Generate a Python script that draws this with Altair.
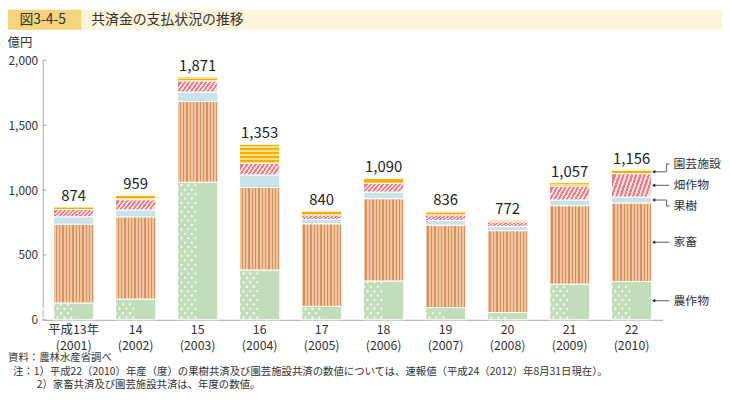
import altair as alt
import pandas as pd

# ---- data (億円) ----
years = ["2001", "2002", "2003", "2004", "2005", "2006", "2007", "2008", "2009", "2010"]
wareki = ["平成13年", "14", "15", "16", "17", "18", "19", "20", "21", "22"]
categories = ["農作物", "家畜", "果樹", "畑作物", "園芸施設"]
nousakumotsu = [130, 160, 1061, 384, 104, 300, 94, 56, 275, 295]
kachiku = [607, 634, 623, 636, 636, 634, 636, 631, 605, 606]
kaju = [57, 53, 72, 97, 33, 51, 36, 33, 44, 45]
hatasaku = [56, 79, 86, 89, 36, 68, 43, 36, 108, 181]
engei = [24, 33, 29, 147, 31, 37, 27, 16, 25, 29]
totals = [874, 959, 1871, 1353, 840, 1090, 836, 772, 1057, 1156]
y_ticks = [0, 500, 1000, 1500, 2000]

title_no = "図3-4-5"
title_text = "共済金の支払状況の推移"
unit_label = "億円"
note_src = "資料：農林水産省調べ"
note_1 = "注：1）平成22（2010）年産（度）の果樹共済及び園芸施設共済の数値については、速報値（平成24（2012）年8月31日現在）。"
note_2 = "2）家畜共済及び園芸施設共済は、年度の数値。"

series = [nousakumotsu, kachiku, kaju, hatasaku, engei]
xlabels = [f"{w}|({y})" for w, y in zip(wareki, years)]

rows = []
for i, xl in enumerate(xlabels):
    base = 0
    for c, s in zip(categories, series):
        rows.append({"xlab": xl, "cat": c, "value": s[i], "y0": base, "y1": base + s[i]})
        base += s[i]
df = pd.DataFrame(rows)
tot_df = pd.DataFrame({"xlab": xlabels, "total": totals})
lab_df = pd.DataFrame({"xlab": xlabels, "l1": wareki, "l2": [f"({y})" for y in years]})

FONT = "Noto Sans CJK JP"
TXT = "#333333"
W, H = 626, 262
PAD_L = 35

xscale = alt.Scale(domain=xlabels, paddingInner=0.35, paddingOuter=0.175)
yscale = alt.Scale(domain=[0, 2000], nice=False)


def stripes(c1, c2, n, frac, x1, y1, x2, y2):
    stops = []
    for i in range(n):
        a, b, c = i / n, (i + frac) / n, (i + 1) / n
        stops += [alt.GradientStop(color=c1, offset=a), alt.GradientStop(color=c1, offset=b),
                  alt.GradientStop(color=c2, offset=b), alt.GradientStop(color=c2, offset=c)]
    return alt.LinearGradient(gradient="linear", stops=stops, x1=x1, y1=y1, x2=x2, y2=y2)


fills = {
    "農作物": "#c2ddb9",
    "家畜": stripes("#efc6a2", "#d8915f", 12, 0.6, 0, 0, 1, 0),
    "果樹": "#c8e3ea",
    "畑作物": stripes("#e47e88", "#fadcdf", 10, 0.5, 0, 0.4, 1, 0.6),
    "園芸施設": stripes("#f2b000", "#fbe08a", 5, 0.55, 0, 0, 0, 1),
}

X_AXIS = alt.Axis(labels=False, ticks=False, domainColor="#a8a8a8", title=None)
Y_AXIS = alt.Axis(values=y_ticks, format=",d", labelFontSize=12, labelColor=TXT,
                  labelFont=FONT, labelPadding=5, ticks=False, grid=False,
                  domainColor="#a8a8a8", title=None)


def xe():
    return alt.X("xlab:N", scale=xscale, sort=xlabels, axis=X_AXIS, title=None)


def ye(field):
    return alt.Y(field, scale=yscale, axis=Y_AXIS, title=None)


base = alt.Chart(df)
bar_layers = []
for c in categories:
    bar_layers.append(
        base.transform_filter(alt.datum.cat == c)
        .mark_bar(fill=fills[c], stroke="white", strokeWidth=1)
        .encode(x=xe(), y=ye("y0:Q"), y2="y1:Q")
    )

# dotted texture on 農作物
dots = (
    base.transform_filter(alt.datum.cat == "農作物")
    .transform_calculate(idx="sequence(0, floor((datum.value - 27) / 34) + 1)")
    .transform_flatten(["idx"])
    .transform_calculate(yv="17 + datum.idx * 34",
                         cols="datum.idx % 2 == 0 ? [-17, -10, -3, 4, 11, 18] : [-13.5, -6.5, 0.5, 7.5, 14.5]")
    .transform_flatten(["cols"])
    .mark_square(size=4, color="white", opacity=0.95)
    .encode(x=xe(), xOffset=alt.XOffset("cols:Q", scale=None), y=ye("yv:Q"))
)

tot_text = alt.Chart(tot_df).mark_text(font=FONT, fontSize=15, color="#222222", baseline="bottom", dy=-3).encode(
    x=xe(), y=ye("total:Q"), text=alt.Text("total:Q", format=","))

# category labels (two lines) under each bar
xl1 = alt.Chart(lab_df).mark_text(font=FONT, fontSize=12.5, color=TXT, baseline="middle").encode(
    x=xe(), y=alt.value(H + 10), text="l1:N")
xl2 = alt.Chart(lab_df).mark_text(font=FONT, fontSize=12.5, color=TXT, baseline="middle").encode(
    x=xe(), y=alt.value(H + 26), text="l2:N")

tick_rules = alt.Chart(pd.DataFrame({"t": y_ticks})).mark_rule(color="#a8a8a8", strokeWidth=1).encode(
    x=alt.value(0), x2=alt.value(4), y=ye("t:Q"))

# right-side labels pointing to the 2010 bar
last = df[df.xlab == xlabels[-1]].copy()
last["mid"] = (last.y0 + last.y1) / 2
ann = last[["cat", "mid"]]
LX0, LXE, LX1, TX = W - 8, W + 4, W + 7, W + 11
LINE = "#777777"

ann_layers = []
straight = alt.Chart(ann).transform_filter(alt.FieldOneOfPredicate(field="cat", oneOf=["畑作物", "家畜", "農作物"]))
ann_layers.append(straight.mark_rule(color=LINE, strokeWidth=1.2).encode(
    x=alt.value(LX0), x2=alt.value(LX1), y=ye("mid:Q")))
ann_layers.append(straight.mark_text(font=FONT, fontSize=12, color=TXT, align="left", baseline="middle").encode(
    x=alt.value(TX), y=ye("mid:Q"), text="cat:N"))
for c, off in [("園芸施設", -8), ("果樹", 6)]:
    one = alt.Chart(ann).transform_filter(alt.datum.cat == c)
    ann_layers.append(one.mark_rule(color=LINE, strokeWidth=1.2).encode(
        x=alt.value(LX0), x2=alt.value(LXE), y=ye("mid:Q")))
    ann_layers.append(one.mark_rule(color=LINE, strokeWidth=1.2, y2Offset=off).encode(
        x=alt.value(LXE), y=ye("mid:Q"), y2="mid:Q"))
    ann_layers.append(one.mark_rule(color=LINE, strokeWidth=1.2, yOffset=off).encode(
        x=alt.value(LXE), x2=alt.value(LX1), y=ye("mid:Q")))
    ann_layers.append(one.mark_text(font=FONT, fontSize=12, color=TXT, align="left", baseline="middle",
                                    yOffset=off).encode(
        x=alt.value(TX), y=ye("mid:Q"), text="cat:N"))
ann_layers.append(alt.Chart(ann).mark_point(shape="triangle-left", filled=True, size=14, color="#222222", opacity=1).encode(
    x=alt.value(LX0 - 1), y=ye("mid:Q")))

# title band, unit and notes (pixel offsets relative to the plot area)
one_row = pd.DataFrame({"k": [0]})


def txt(s, x, y, size, align="left"):
    return alt.Chart(one_row).mark_text(font=FONT, fontSize=size, color=TXT, align=align, baseline="middle").encode(
        x=alt.value(x), y=alt.value(y), text=alt.value(s))


OX = PAD_L + 8  # page x of the plot's left edge
title_layers = [
    alt.Chart(one_row).mark_rect(color="#fdf5dc").encode(x=alt.value(82 - OX), x2=alt.value(730 - OX), y=alt.value(-51), y2=alt.value(-31)),
    alt.Chart(one_row).mark_rect(color="#f4d47c").encode(x=alt.value(8 - OX), x2=alt.value(82 - OX), y=alt.value(-51), y2=alt.value(-31)),
    txt(title_no, 43 - OX, -40.5, 14, "center"),
    txt(title_text, 92 - OX, -40.5, 14),
    txt(unit_label, 20 - OX, -17, 12.5, "center"),
    txt(note_src, 8 - OX, H + 39, 10.5),
    txt(note_1, 13 - OX, H + 52.5, 10.5),
    txt(note_2, 37 - OX, H + 65.5, 10.5),
]

chart = alt.layer(*bar_layers, dots, tot_text, xl1, xl2, tick_rules, *ann_layers, *title_layers).properties(
    width=W, height=H,
    padding={"left": PAD_L, "top": 51, "right": 722 - PAD_L - W - 1, "bottom": 71},
    autosize=alt.AutoSizeParams(type="none"),
).configure(font=FONT).configure_view(stroke=None)

chart.save("out.html", embed_options={"renderer": "svg", "actions": False})
